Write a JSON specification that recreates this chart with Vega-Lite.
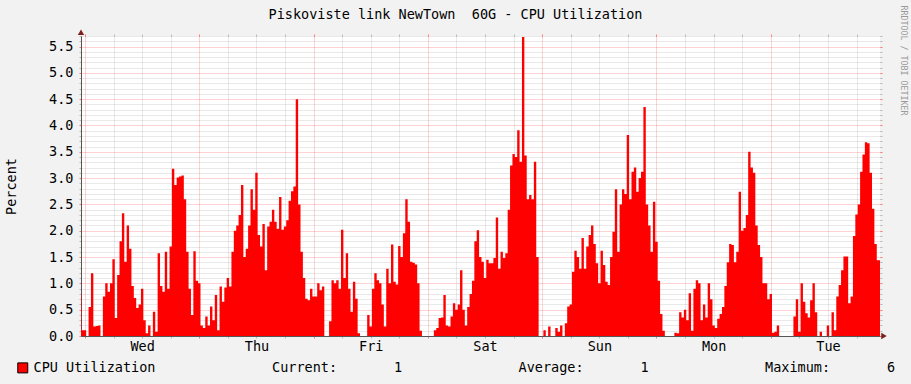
{
  "$schema": "https://vega.github.io/schema/vega-lite/v6.json",
  "autosize": {"type": "none"},
  "width": 799,
  "height": 300,
  "padding": {"left": 81, "top": 36, "right": 31, "bottom": 48},
  "background": "#f2f2f2",
  "config": {"view": {"fill": "white", "stroke": null}, "font": "DejaVu Sans Mono"},
  "title": {"text": "Piskoviste link NewTown\u00a0\u00a060G - CPU Utilization", "font": "DejaVu Sans Mono", "fontSize": 13.5, "fontWeight": "normal", "color": "black", "anchor": "middle", "frame": "group", "dx": -25, "offset": 0, "baseline": "middle", "dy": 23},
  "data": {"values": [
    {"t":-1,"v":0.8},{"t":-0.5,"v":0.11},{"t":0,"v":0.11},{"t":0.5,"v":0},{"t":1,"v":0.55},{"t":1.5,"v":1.19},{"t":2,"v":0.18},{"t":2.5,"v":0.19},{"t":3,"v":0.2},{"t":3.5,"v":0},
    {"t":4,"v":0.75},{"t":4.5,"v":1.0},{"t":5,"v":0.84},{"t":5.5,"v":1.0},{"t":6,"v":1.46},{"t":6.5,"v":0.34},{"t":7,"v":1.16},{"t":7.5,"v":1.8},{"t":8,"v":2.33},{"t":8.5,"v":1.41},
    {"t":9,"v":2.1},{"t":9.5,"v":1.66},{"t":10,"v":0.95},{"t":10.5,"v":0.72},{"t":11,"v":0.53},{"t":11.5,"v":0.6},{"t":12,"v":0.9},{"t":12.5,"v":0.3},{"t":13,"v":0.05},{"t":13.5,"v":0.2},
    {"t":14,"v":0},{"t":14.5,"v":0.46},{"t":15,"v":0.08},{"t":15.5,"v":1.57},{"t":16,"v":0.95},{"t":16.5,"v":0.84},{"t":17,"v":1.6},{"t":17.5,"v":0.9},{"t":18,"v":1.7},{"t":18.5,"v":3.18},
    {"t":19,"v":2.87},{"t":19.5,"v":3.01},{"t":20,"v":3.03},{"t":20.5,"v":3.05},{"t":21,"v":2.6},{"t":21.5,"v":1.6},{"t":22,"v":0.9},{"t":22.5,"v":0.4},{"t":23,"v":1.61},{"t":23.5,"v":1.05},
    {"t":24,"v":1.0},{"t":24.5,"v":0.2},{"t":25,"v":0.15},{"t":25.5,"v":0.37},{"t":26,"v":0.2},{"t":26.5,"v":0.56},{"t":27,"v":0.3},{"t":27.5,"v":0.78},{"t":28,"v":0.11},{"t":28.5,"v":0.94},
    {"t":29,"v":0.65},{"t":29.5,"v":0.92},{"t":30,"v":1.1},{"t":30.5,"v":0.94},{"t":31,"v":1.6},{"t":31.5,"v":2.0},{"t":32,"v":2.1},{"t":32.5,"v":2.3},{"t":33,"v":2.87},{"t":33.5,"v":1.5},
    {"t":34,"v":1.66},{"t":34.5,"v":2.1},{"t":35,"v":2.79},{"t":35.5,"v":2.4},{"t":36,"v":3.1},{"t":36.5,"v":1.92},{"t":37,"v":1.7},{"t":37.5,"v":2.13},{"t":38,"v":1.25},{"t":38.5,"v":2.08},
    {"t":39,"v":2.17},{"t":39.5,"v":2.4},{"t":40,"v":2.17},{"t":40.5,"v":2.04},{"t":41,"v":2.64},{"t":41.5,"v":2.02},{"t":42,"v":2.08},{"t":42.5,"v":2.2},{"t":43,"v":2.57},{"t":43.5,"v":2.75},
    {"t":44,"v":2.84},{"t":44.5,"v":4.5},{"t":45,"v":2.5},{"t":45.5,"v":1.6},{"t":46,"v":1.1},{"t":46.5,"v":0.71},{"t":47,"v":0.68},{"t":47.5,"v":0.9},{"t":48,"v":0.75},{"t":48.5,"v":0.75},
    {"t":49,"v":1.0},{"t":49.5,"v":0.87},{"t":50,"v":0.94},{"t":50.5,"v":0},{"t":51,"v":0},{"t":51.5,"v":0.28},{"t":52,"v":1.06},{"t":52.5,"v":1.0},{"t":53,"v":1.06},{"t":53.5,"v":0.9},
    {"t":54,"v":2.02},{"t":54.5,"v":1.1},{"t":55,"v":1.57},{"t":55.5,"v":0.9},{"t":56,"v":0.46},{"t":56.5,"v":1.03},{"t":57,"v":0.71},{"t":57.5,"v":0.05},{"t":58,"v":0},{"t":58.5,"v":0},
    {"t":59,"v":0},{"t":59.5,"v":0.4},{"t":60,"v":0.18},{"t":60.5,"v":0.9},{"t":61,"v":1.19},{"t":61.5,"v":1.06},{"t":62,"v":1.0},{"t":62.5,"v":0.6},{"t":63,"v":0.18},{"t":63.5,"v":1.28},
    {"t":64,"v":1.0},{"t":64.5,"v":1.74},{"t":65,"v":1.03},{"t":65.5,"v":0.98},{"t":66,"v":1.71},{"t":66.5,"v":1.5},{"t":67,"v":1.95},{"t":67.5,"v":2.6},{"t":68,"v":2.17},{"t":68.5,"v":1.41},
    {"t":69,"v":1.39},{"t":69.5,"v":1.36},{"t":70,"v":1.0},{"t":70.5,"v":0.1},{"t":71,"v":0},{"t":71.5,"v":0},{"t":72,"v":0},{"t":72.5,"v":0},{"t":73,"v":0},{"t":73.5,"v":0.11},
    {"t":74,"v":0.15},{"t":74.5,"v":0.34},{"t":75,"v":0.35},{"t":75.5,"v":0.78},{"t":76,"v":0.2},{"t":76.5,"v":0.18},{"t":77,"v":0.37},{"t":77.5,"v":0.62},{"t":78,"v":0.5},{"t":78.5,"v":0.6},
    {"t":79,"v":1.25},{"t":79.5,"v":0.5},{"t":80,"v":0.2},{"t":80.5,"v":0.55},{"t":81,"v":0.8},{"t":81.5,"v":1.05},{"t":82,"v":1.8},{"t":82.5,"v":2.01},{"t":83,"v":1.5},{"t":83.5,"v":1.41},
    {"t":84,"v":1.1},{"t":84.5,"v":1.45},{"t":85,"v":1.38},{"t":85.5,"v":1.38},{"t":86,"v":1.48},{"t":86.5,"v":2.25},{"t":87,"v":1.28},{"t":87.5,"v":1.6},{"t":88,"v":1.48},{"t":88.5,"v":1.57},
    {"t":89,"v":2.4},{"t":89.5,"v":3.24},{"t":90,"v":3.46},{"t":90.5,"v":3.4},{"t":91,"v":3.91},{"t":91.5,"v":3.31},{"t":92,"v":5.68},{"t":92.5,"v":3.43},{"t":93,"v":2.6},{"t":93.5,"v":2.68},
    {"t":94,"v":2.6},{"t":94.5,"v":3.31},{"t":95,"v":1.5},{"t":95.5,"v":0},{"t":96,"v":0},{"t":96.5,"v":0.11},{"t":97,"v":0},{"t":97.5,"v":0.18},{"t":98,"v":0},{"t":98.5,"v":0},
    {"t":99,"v":0.15},{"t":99.5,"v":0.08},{"t":100,"v":0.2},{"t":100.5,"v":0},{"t":101,"v":0.24},{"t":101.5,"v":0.56},{"t":102,"v":0.6},{"t":102.5,"v":1.22},{"t":103,"v":1.62},{"t":103.5,"v":1.5},
    {"t":104,"v":1.28},{"t":104.5,"v":1.86},{"t":105,"v":1.28},{"t":105.5,"v":1.7},{"t":106,"v":1.92},{"t":106.5,"v":2.1},{"t":107,"v":1.75},{"t":107.5,"v":1.38},{"t":108,"v":1.0},{"t":108.5,"v":1.62},
    {"t":109,"v":1.35},{"t":109.5,"v":1.03},{"t":110,"v":0.97},{"t":110.5,"v":1.5},{"t":111,"v":1.98},{"t":111.5,"v":2.79},{"t":112,"v":1.6},{"t":112.5,"v":2.5},{"t":113,"v":2.79},{"t":113.5,"v":2.7},
    {"t":114,"v":3.82},{"t":114.5,"v":2.6},{"t":115,"v":3.12},{"t":115.5,"v":3.2},{"t":116,"v":2.74},{"t":116.5,"v":3.0},{"t":117,"v":3.12},{"t":117.5,"v":4.35},{"t":118,"v":2.5},{"t":118.5,"v":2.1},
    {"t":119,"v":1.6},{"t":119.5,"v":2.55},{"t":120,"v":1.79},{"t":120.5,"v":1.05},{"t":121,"v":0.42},{"t":121.5,"v":0.1},{"t":122,"v":0},{"t":122.5,"v":0},{"t":123,"v":0},{"t":123.5,"v":0},
    {"t":124,"v":0.06},{"t":124.5,"v":0.05},{"t":125,"v":0.45},{"t":125.5,"v":0.35},{"t":126,"v":0.5},{"t":126.5,"v":0.3},{"t":127,"v":0.81},{"t":127.5,"v":0.1},{"t":128,"v":0.9},{"t":128.5,"v":1.06},
    {"t":129,"v":1.0},{"t":129.5,"v":0.3},{"t":130,"v":0.6},{"t":130.5,"v":0.35},{"t":131,"v":1.0},{"t":131.5,"v":0.7},{"t":132,"v":0.2},{"t":132.5,"v":0.15},{"t":133,"v":0.33},{"t":133.5,"v":0.42},
    {"t":134,"v":0.55},{"t":134.5,"v":0.95},{"t":135,"v":1.4},{"t":135.5,"v":1.75},{"t":136,"v":1.73},{"t":136.5,"v":1.4},{"t":137,"v":1.6},{"t":137.5,"v":2.74},{"t":138,"v":2.0},{"t":138.5,"v":2.05},
    {"t":139,"v":2.3},{"t":139.5,"v":3.5},{"t":140,"v":3.2},{"t":140.5,"v":3.1},{"t":141,"v":2.1},{"t":141.5,"v":1.73},{"t":142,"v":1.5},{"t":142.5,"v":1.0},{"t":143,"v":1.0},{"t":143.5,"v":0.7},
    {"t":144,"v":0.8},{"t":144.5,"v":0.06},{"t":145,"v":0.08},{"t":145.5,"v":0.2},{"t":146,"v":0},{"t":146.5,"v":0},{"t":147,"v":0},{"t":147.5,"v":0},{"t":148,"v":0},{"t":148.5,"v":0},
    {"t":149,"v":0.37},{"t":149.5,"v":0.7},{"t":150,"v":0.08},{"t":150.5,"v":1.0},{"t":151,"v":0.65},{"t":151.5,"v":0.43},{"t":152,"v":0.35},{"t":152.5,"v":0.68},{"t":153,"v":1.0},{"t":153.5,"v":0.45},
    {"t":154,"v":0},{"t":154.5,"v":0.08},{"t":155,"v":0},{"t":155.5,"v":0},{"t":156,"v":0.2},{"t":156.5,"v":0},{"t":157,"v":0.45},{"t":157.5,"v":0.11},{"t":158,"v":0.75},{"t":158.5,"v":0.97},
    {"t":159,"v":1.25},{"t":159.5,"v":1.51},{"t":160,"v":1.51},{"t":160.5,"v":0.62},{"t":161,"v":0.75},{"t":161.5,"v":1.9},{"t":162,"v":2.31},{"t":162.5,"v":2.5},{"t":163,"v":3.12},{"t":163.5,"v":3.45},
    {"t":164,"v":3.68},{"t":164.5,"v":3.66},{"t":165,"v":3.1},{"t":165.5,"v":2.42},{"t":166,"v":1.75},{"t":166.5,"v":1.44},{"t":167,"v":1.44}
  ]},
  "layer": [
    {
      "mark": {"type": "area", "color": "#ff0000", "interpolate": "step", "clip": true, "opacity": 1},
      "encoding": {
        "x": {"field": "t", "type": "quantitative",
          "scale": {"domain": [-0.84, 166.93], "nice": false, "zero": false},
          "axis": {"orient": "bottom", "title": null, "labels": false, "domain": false,
            "values": [0,6,12,18,24,30,36,42,48,54,60,66,72,78,84,90,96,102,108,114,120,126,132,138,144,150,156,162],
            "ticks": true, "tickSize": 2,
            "tickColor": {"condition": {"test": "datum.value % 24 === 0", "value": "rgba(255,0,0,0.5)"}, "value": "rgba(128,128,128,0.5)"},
            "grid": true, "gridDash": [1, 1],
            "gridColor": {"condition": {"test": "datum.value % 24 === 0", "value": "rgba(255,0,0,0.35)"}, "value": "rgba(128,128,128,0.35)"}}},
        "y": {"field": "v", "type": "quantitative",
          "scale": {"domain": [0, 5.7], "nice": false, "zero": false},
          "axis": {"orient": "left", "title": null, "labels": false, "domain": false,
            "values": [0,0.1,0.2,0.3,0.4,0.5,0.6,0.7,0.8,0.9,1,1.1,1.2,1.3,1.4,1.5,1.6,1.7,1.8,1.9,2,2.1,2.2,2.3,2.4,2.5,2.6,2.7,2.8,2.9,3,3.1,3.2,3.3,3.4,3.5,3.6,3.7,3.8,3.9,4,4.1,4.2,4.3,4.4,4.5,4.6,4.7,4.8,4.9,5,5.1,5.2,5.3,5.4,5.5,5.6,5.7],
            "ticks": true, "tickSize": 2,
            "tickColor": {"condition": {"test": "round(datum.value * 10) % 5 === 0", "value": "rgba(255,0,0,0.5)"}, "value": "rgba(128,128,128,0.5)"},
            "grid": true, "gridDash": [1, 1],
            "gridColor": {"condition": {"test": "round(datum.value * 10) % 5 === 0", "value": "rgba(255,0,0,0.35)"}, "value": "rgba(128,128,128,0.35)"}}},
        "color": {"datum": "CPU Utilization",
          "scale": {"domain": ["CPU Utilization", "Current:\u00a0\u00a0\u00a0\u00a0\u00a0\u00a0\u00a01", "Average:\u00a0\u00a0\u00a0\u00a0\u00a0\u00a0\u00a01", "Maximum:\u00a0\u00a0\u00a0\u00a0\u00a0\u00a0\u00a06"], "range": ["#ff0000", "#ff0000", "#ff0000", "#ff0000"]},
          "legend": {"orient": "none", "legendX": -65, "legendY": 325, "direction": "horizontal", "columns": 4, "title": null,
            "symbolType": "square", "symbolSize": 100, "symbolStrokeColor": "black", "symbolStrokeWidth": 1, "symbolOpacity": 1,
            "labelFont": "DejaVu Sans Mono", "labelFontSize": 13.5, "labelColor": "black", "labelOffset": 4, "labelLimit": 1000,
            "columnPadding": 98.5, "padding": 0, "gridAlign": "each",
            "encode": {"symbols": {"update": {"opacity": {"signal": "indexof(datum.value, 'CPU') === 0 ? 1 : 0"}}}}}}
      }
    },
    {
      "data": {"values": [{}]},
      "mark": {"type": "point", "shape": "triangle-right", "filled": true, "color": "#7f1f1f", "size": 40, "opacity": 1},
      "encoding": {
        "x": {"datum": 167.77, "type": "quantitative",
          "scale": {"domain": [-0.84, 166.93], "nice": false, "zero": false},
          "axis": {"orient": "bottom", "title": null, "values": [12,36,60,84,108,132,156],
            "labelExpr": "['Wed','Thu','Fri','Sat','Sun','Mon','Tue'][floor(datum.value / 24)]",
            "labelFont": "DejaVu Sans Mono", "labelFontSize": 13.5, "labelColor": "black", "labelPadding": 3,
            "ticks": false, "grid": false, "domain": true, "domainColor": "#555555", "domainWidth": 1}},
        "y": {"datum": 0, "type": "quantitative",
          "scale": {"domain": [0, 5.7], "nice": false, "zero": false},
          "axis": {"orient": "right", "labels": false, "domain": false, "grid": false,
            "values": [0,0.1,0.2,0.3,0.4,0.5,0.6,0.7,0.8,0.9,1,1.1,1.2,1.3,1.4,1.5,1.6,1.7,1.8,1.9,2,2.1,2.2,2.3,2.4,2.5,2.6,2.7,2.8,2.9,3,3.1,3.2,3.3,3.4,3.5,3.6,3.7,3.8,3.9,4,4.1,4.2,4.3,4.4,4.5,4.6,4.7,4.8,4.9,5,5.1,5.2,5.3,5.4,5.5,5.6,5.7],
            "ticks": true, "tickSize": 2,
            "tickColor": {"condition": {"test": "round(datum.value * 10) % 5 === 0", "value": "rgba(255,0,0,0.5)"}, "value": "rgba(128,128,128,0.5)"},
            "title": "RRDTOOL / TOBI OETIKER", "titleFont": "DejaVu Sans Mono", "titleFontSize": 8.3, "titleFontWeight": "normal",
            "titleColor": "#9a9a9a", "titleAngle": 90, "titleAlign": "left", "titleBaseline": "middle", "titleX": 22.5, "titleY": -31}}
      }
    },
    {
      "data": {"values": [{}]},
      "mark": {"type": "point", "shape": "triangle-up", "filled": true, "color": "#7f1f1f", "size": 40, "opacity": 1},
      "encoding": {
        "x": {"datum": -0.84, "type": "quantitative",
          "scale": {"domain": [-0.84, 166.93], "nice": false, "zero": false},
          "axis": {"orient": "top", "title": null, "labels": false, "domain": false, "grid": false,
            "values": [0,6,12,18,24,30,36,42,48,54,60,66,72,78,84,90,96,102,108,114,120,126,132,138,144,150,156,162],
            "ticks": true, "tickSize": 2,
            "tickColor": {"condition": {"test": "datum.value % 24 === 0", "value": "rgba(255,0,0,0.5)"}, "value": "rgba(128,128,128,0.5)"}}},
        "y": {"datum": 5.77, "type": "quantitative",
          "scale": {"domain": [0, 5.7], "nice": false, "zero": false},
          "axis": {"orient": "left", "values": [0,0.5,1,1.5,2,2.5,3,3.5,4,4.5,5,5.5], "format": ".1f",
            "labelFont": "DejaVu Sans Mono", "labelFontSize": 13.5, "labelColor": "black", "labelPadding": 8,
            "ticks": false, "grid": false, "domain": true, "domainColor": "#555555", "domainWidth": 1,
            "title": "Percent", "titleFont": "DejaVu Sans Mono", "titleFontSize": 13.5, "titleFontWeight": "normal", "titleColor": "black",
            "titleAngle": -90, "titleX": -70, "titleY": 150, "titleAlign": "center", "titleBaseline": "middle"}}
      }
    }
  ],
  "resolve": {"axis": {"x": "independent", "y": "independent"}}
}
